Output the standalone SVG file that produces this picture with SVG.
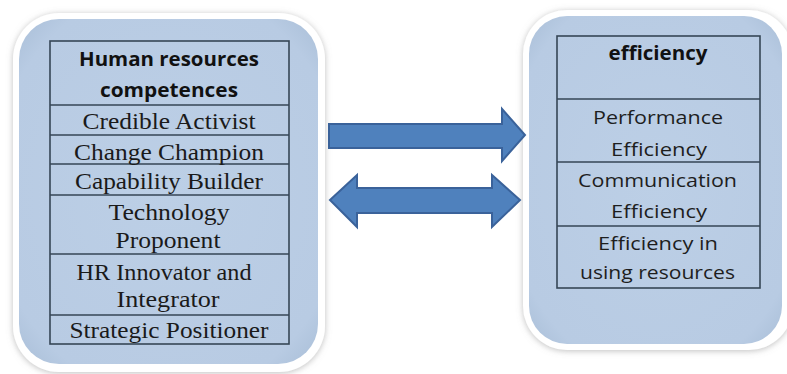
<svg xmlns="http://www.w3.org/2000/svg" width="787" height="374" viewBox="0 0 787 374">
  <defs>
    <radialGradient id="panelFill" cx="50%" cy="50%" r="70%">
      <stop offset="0" stop-color="#bccfe6"/>
      <stop offset="0.85" stop-color="#b8cbe3"/>
      <stop offset="1" stop-color="#aabfd8"/>
    </radialGradient>
    <filter id="rimShadow" x="-10%" y="-10%" width="120%" height="120%">
      <feDropShadow dx="0" dy="1" stdDeviation="3" flood-color="#8a8a8a" flood-opacity="0.55"/>
    </filter>
    <style>
      .rim { fill: #ffffff; filter: url(#rimShadow); }
      .panel { fill: url(#panelFill); }
      .grid { fill: none; stroke: #364656; stroke-width: 1.6; }
      .serif { font-family: "Liberation Serif", "Times New Roman", serif; font-size: 24px; fill: #1a1a1a; text-anchor: middle; }
      .sans { font-family: "Open Sans", "Liberation Sans", sans-serif; font-size: 19px; fill: #1e1e1e; text-anchor: middle; }
      .head { font-family: "Open Sans", "Liberation Sans", sans-serif; font-size: 19px; font-weight: bold; fill: #111111; text-anchor: middle; }
      .arrow { fill: #4f81bd; stroke: #3a629a; stroke-width: 2; stroke-linejoin: miter; }
    </style>
  </defs>

  <rect width="787" height="374" fill="#ffffff"/>

  <!-- Left panel: HR competences -->
  <g id="hr-competences">
    <rect class="rim" x="13" y="13" width="312" height="359" rx="46"/>
    <rect class="panel" x="19" y="19" width="299" height="345" rx="40"/>
    <rect class="grid" x="50" y="41" width="239" height="303"/>
    <path class="grid" d="M50,105H289M50,135H289M50,164H289M50,195H289M50,254H289M50,315H289"/>
    <text class="head" x="169" y="66" textLength="180" lengthAdjust="spacingAndGlyphs">Human resources</text>
    <text class="head" x="169" y="97" textLength="138" lengthAdjust="spacingAndGlyphs">competences</text>
    <text class="serif" x="169" y="129" textLength="173" lengthAdjust="spacingAndGlyphs">Credible Activist</text>
    <text class="serif" x="169" y="160" textLength="190" lengthAdjust="spacingAndGlyphs">Change Champion</text>
    <text class="serif" x="169" y="189" textLength="188" lengthAdjust="spacingAndGlyphs">Capability Builder</text>
    <text class="serif" x="169" y="220" textLength="121" lengthAdjust="spacingAndGlyphs">Technology</text>
    <text class="serif" x="168" y="248" textLength="105" lengthAdjust="spacingAndGlyphs">Proponent</text>
    <text class="serif" x="164" y="280" textLength="175" lengthAdjust="spacingAndGlyphs">HR Innovator and</text>
    <text class="serif" x="168" y="307" textLength="103" lengthAdjust="spacingAndGlyphs">Integrator</text>
    <text class="serif" x="169" y="338" textLength="199" lengthAdjust="spacingAndGlyphs">Strategic Positioner</text>
  </g>

  <!-- Right panel: efficiency -->
  <g id="efficiency">
    <rect class="rim" x="523" y="10" width="270" height="340" rx="44"/>
    <rect class="panel" x="529" y="16" width="253" height="328" rx="38"/>
    <rect class="grid" x="557" y="36" width="203" height="252"/>
    <path class="grid" d="M557,99H760M557,162H760M557,226H760"/>
    <text class="head" x="658" y="60" font-size="18" textLength="99" lengthAdjust="spacingAndGlyphs">efficiency</text>
    <text class="sans" x="658" y="124" textLength="130" lengthAdjust="spacingAndGlyphs">Performance</text>
    <text class="sans" x="659" y="156" textLength="96" lengthAdjust="spacingAndGlyphs">Efficiency</text>
    <text class="sans" x="657.5" y="187" textLength="159" lengthAdjust="spacingAndGlyphs">Communication</text>
    <text class="sans" x="659" y="218" textLength="96" lengthAdjust="spacingAndGlyphs">Efficiency</text>
    <text class="sans" x="658" y="250" textLength="120" lengthAdjust="spacingAndGlyphs">Efficiency in</text>
    <text class="sans" x="657.5" y="279" textLength="155" lengthAdjust="spacingAndGlyphs">using resources</text>
  </g>

  <!-- Block arrows between the panels -->
  <g id="connectors">
    <path class="arrow" d="M329,124H502V109L525,135L502,161V148H329Z"/>
    <path class="arrow" d="M330,200L357,175V188H492V175L520,200L492,227V213H357V227Z"/>
  </g>
</svg>
